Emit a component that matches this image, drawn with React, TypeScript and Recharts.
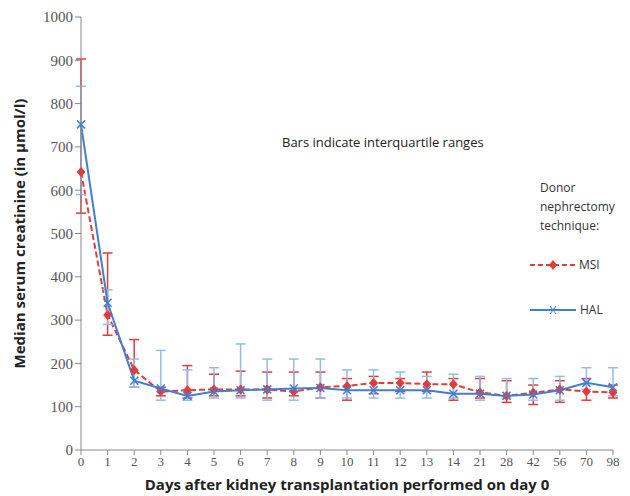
import React from 'react'
import { LineChart, Line, XAxis, YAxis, ErrorBar, Label } from 'recharts'

// days after transplantation (category axis)
const days = ['0', '1', '2', '3', '4', '5', '6', '7', '8', '9', '10', '11', '12', '13', '14', '21', '28', '42', '56', '70', '98']

// MSI median + interquartile range
const msi = [642, 312, 185, 135, 138, 140, 140, 140, 135, 145, 148, 155, 155, 152, 152, 133, 125, 132, 140, 135, 133]
const msiLow = [547, 265, 145, 125, 120, 125, 125, 120, 125, 120, 115, 130, 135, 135, 115, 120, 110, 105, 110, 115, 120]
const msiHigh = [903, 455, 255, 145, 195, 175, 182, 180, 180, 180, 165, 170, 165, 180, 165, 165, 160, 150, 160, 165, 150]

// HAL median + interquartile range
const hal = [752, 340, 160, 142, 125, 135, 138, 140, 142, 143, 138, 138, 138, 138, 130, 130, 125, 128, 138, 155, 145]
const halLow = [590, 290, 145, 115, 115, 120, 120, 115, 115, 120, 120, 120, 120, 120, 120, 115, 120, 115, 115, 140, 125]
const halHigh = [840, 370, 210, 230, 185, 190, 245, 210, 210, 210, 185, 185, 180, 170, 175, 170, 165, 165, 170, 190, 190]

const yTicks = [0, 100, 200, 300, 400, 500, 600, 700, 800, 900, 1000]

const RED = '#e03c3c'
const BLUE = '#3f7fd4'
const LIGHTBLUE = '#93bde9'
const labelFont = '"Open Sans", "Noto Sans", sans-serif'
const tickFont = '"Liberation Serif", serif'

const data = days.map((d, i) => ({
  day: d,
  msi: msi[i],
  msiErr: [msi[i] - msiLow[i], msiHigh[i] - msi[i]],
  hal: hal[i],
  halErr: [hal[i] - halLow[i], halHigh[i] - hal[i]],
}))

const Diamond = (props: any) => {
  const { cx, cy } = props
  if (cx == null || cy == null) return null
  return <polygon points={`${cx},${cy - 5} ${cx + 4.5},${cy} ${cx},${cy + 5} ${cx - 4.5},${cy}`} fill={RED} />
}

const Cross = (props: any) => {
  const { cx, cy } = props
  if (cx == null || cy == null) return null
  return (
    <g stroke={BLUE} strokeWidth={1.5}>
      <line x1={cx - 4} y1={cy - 4} x2={cx + 4} y2={cy + 4} />
      <line x1={cx - 4} y1={cy + 4} x2={cx + 4} y2={cy - 4} />
    </g>
  )
}

const LegendBox = () => (
  <div style={{ position: 'absolute', left: 530, top: 178, fontFamily: labelFont, fontSize: 12, color: '#333', lineHeight: '19px' }}>
    <div style={{ marginLeft: 10 }}>Donor<br />nephrectomy<br />technique:</div>
    <div style={{ display: 'flex', alignItems: 'center', marginTop: 20 }}>
      <svg width={46} height={12}>
        <line x1={0} y1={6} x2={46} y2={6} stroke={RED} strokeWidth={2} strokeDasharray="5 3" />
        <polygon points="23,1 27,6 23,11 19,6" fill={RED} />
      </svg>
      <span style={{ marginLeft: 3 }}>MSI</span>
    </div>
    <div style={{ display: 'flex', alignItems: 'center', marginTop: 26 }}>
      <svg width={46} height={12}>
        <line x1={0} y1={6} x2={46} y2={6} stroke={BLUE} strokeWidth={2} />
        <line x1={20} y1={2} x2={26} y2={10} stroke={BLUE} strokeWidth={1} />
        <line x1={20} y1={10} x2={26} y2={2} stroke={BLUE} strokeWidth={1} />
      </svg>
      <span style={{ marginLeft: 4 }}>HAL</span>
    </div>
  </div>
)

export default function App() {
  return (
    <div style={{ position: 'absolute', top: 0, left: 0, width: 630, height: 496, background: '#fff' }}>
      <LineChart width={630} height={496} data={data} margin={{ top: 17, right: 17, bottom: 16, left: 0 }}>
        <XAxis
          dataKey="day"
          stroke="#888"
          height={30}
          tick={{ fill: '#555', fontSize: 13, fontFamily: tickFont }}
          tickSize={5}
        >
          <Label
            value="Days after kidney transplantation  performed on day 0"
            position="bottom"
            offset={-1}
            style={{ fontFamily: labelFont, fontWeight: 'bold', fontSize: 15, fill: '#222' }}
          />
        </XAxis>
        <YAxis
          width={81}
          domain={[0, 1000]}
          ticks={yTicks}
          interval={0}
          stroke="#888"
          tick={{ fill: '#555', fontSize: 15, fontFamily: tickFont }}
          tickSize={6}
        >
          <Label
            value="Median serum creatinine (in µmol/l)"
            angle={-90}
            position="insideLeft"
            offset={20}
            style={{ textAnchor: 'middle', fontFamily: labelFont, fontWeight: 'bold', fontSize: 15, fill: '#222' }}
          />
        </YAxis>
        <Line
          dataKey="msi"
          stroke={RED}
          strokeWidth={2}
          strokeDasharray="6 3"
          dot={<Diamond />}
          isAnimationActive={false}
        >
          <ErrorBar dataKey="msiErr" stroke={RED} strokeWidth={1.5} width={5} />
        </Line>
        <Line
          dataKey="hal"
          stroke={BLUE}
          strokeWidth={2}
          dot={<Cross />}
          isAnimationActive={false}
        >
          <ErrorBar dataKey="halErr" stroke={LIGHTBLUE} strokeWidth={1.5} width={5} />
        </Line>
        <text x={282} y={147} fontFamily={labelFont} fontSize={13} fill="#222">
          Bars indicate interquartile ranges
        </text>
      </LineChart>
      <LegendBox />
    </div>
  )
}
